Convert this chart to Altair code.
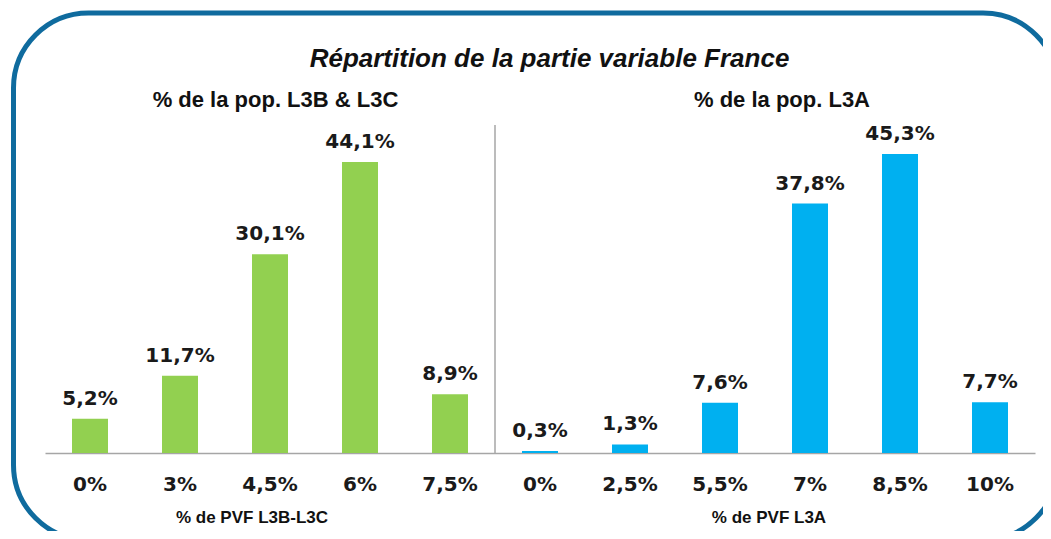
import altair as alt
import pandas as pd

# ---- data ----
left_cats = ["0%", "3%", "4,5%", "6%", "7,5%"]
left_vals = [5.2, 11.7, 30.1, 44.1, 8.9]
right_cats = ["0%", "2,5%", "5,5%", "7%", "8,5%", "10%"]
right_vals = [0.3, 1.3, 7.6, 37.8, 45.3, 7.7]

title_text = "Répartition de la partie variable France"
left_sub = "% de la pop. L3B & L3C"
right_sub = "% de la pop. L3A"
left_axis_title = "% de PVF L3B-L3C"
right_axis_title = "% de PVF L3A"


def fmt(v):
    return f"{v:.1f}".replace(".", ",") + "%"


rows = []
for c, v in zip(left_cats, left_vals):
    rows.append({"key": "L|" + c, "grp": "L", "val": v, "lab": fmt(v)})
for c, v in zip(right_cats, right_vals):
    rows.append({"key": "R|" + c, "grp": "R", "val": v, "lab": fmt(v)})
df = pd.DataFrame(rows)
keys = list(df["key"])

W, H = 990, 330

x = alt.X(
    "key:N",
    sort=keys,
    scale=alt.Scale(paddingInner=0.6, paddingOuter=0.3),
    axis=alt.Axis(
        title=None,
        labelExpr="split(datum.label, '|')[1]",
        labelFont="DejaVu Sans",
        labelFontWeight="bold",
        labelFontSize=20,
        labelColor="#1a1a1a",
        labelAngle=0,
        ticks=False,
        tickSize=0,
        labelPadding=21,
        domainColor="#a6a6a6",
        domainWidth=1.5,
        grid=False,
    ),
)
y = alt.Y("val:Q", scale=alt.Scale(domain=[0, 50]), axis=None)

one = alt.Data(values=[{"a": 1}])

border = alt.Chart(one).mark_rect(
    filled=False, stroke="#0f6b9e", strokeWidth=5, cornerRadius=75
).encode(
    x=alt.value(-31.5), x2=alt.value(1013), y=alt.value(-110), y2=alt.value(417)
)

bars = alt.Chart(df).mark_bar().encode(
    x=x,
    y=y,
    color=alt.Color(
        "grp:N",
        scale=alt.Scale(domain=["L", "R"], range=["#92d050", "#00b0f0"]),
        legend=None,
    ),
)

labels = alt.Chart(df).mark_text(
    dy=-14,
    baseline="alphabetic",
    align="center",
    font="DejaVu Sans",
    fontWeight="bold",
    fontSize=20,
    color="#1a1a1a",
).encode(x=x, y=y, text="lab:N")

sep = alt.Chart(one).mark_rule(color="#a6a6a6", strokeWidth=1.5).encode(
    x=alt.value(450), y=alt.value(2), y2=alt.value(H)
)


def txt(t, px, py, size, italic=False):
    kw = dict(
        text=t,
        font="Liberation Sans",
        fontWeight="bold",
        fontSize=size,
        align="center",
        baseline="alphabetic",
        color="#111111",
    )
    if italic:
        kw["fontStyle"] = "italic"
    return alt.Chart(one).mark_text(**kw).encode(x=alt.value(px), y=alt.value(py))


layers = [
    border,
    bars,
    labels,
    sep,
    txt(title_text, 504.5, -56, 26, italic=True),
    txt(left_sub, 230.5, -16, 22),
    txt(right_sub, 737, -16, 22),
    txt(left_axis_title, 207, 400, 17),
    txt(right_axis_title, 724, 400, 17),
]

chart = (
    alt.layer(*layers)
    .properties(
        width=W,
        height=H,
        padding={"left": 37, "top": 115, "right": 8, "bottom": 78},
        autosize=alt.AutoSizeParams(type="none"),
        background="white",
    )
    .configure_view(stroke=None)
)

chart.save("out.html", embed_options={"renderer": "svg", "actions": False})
